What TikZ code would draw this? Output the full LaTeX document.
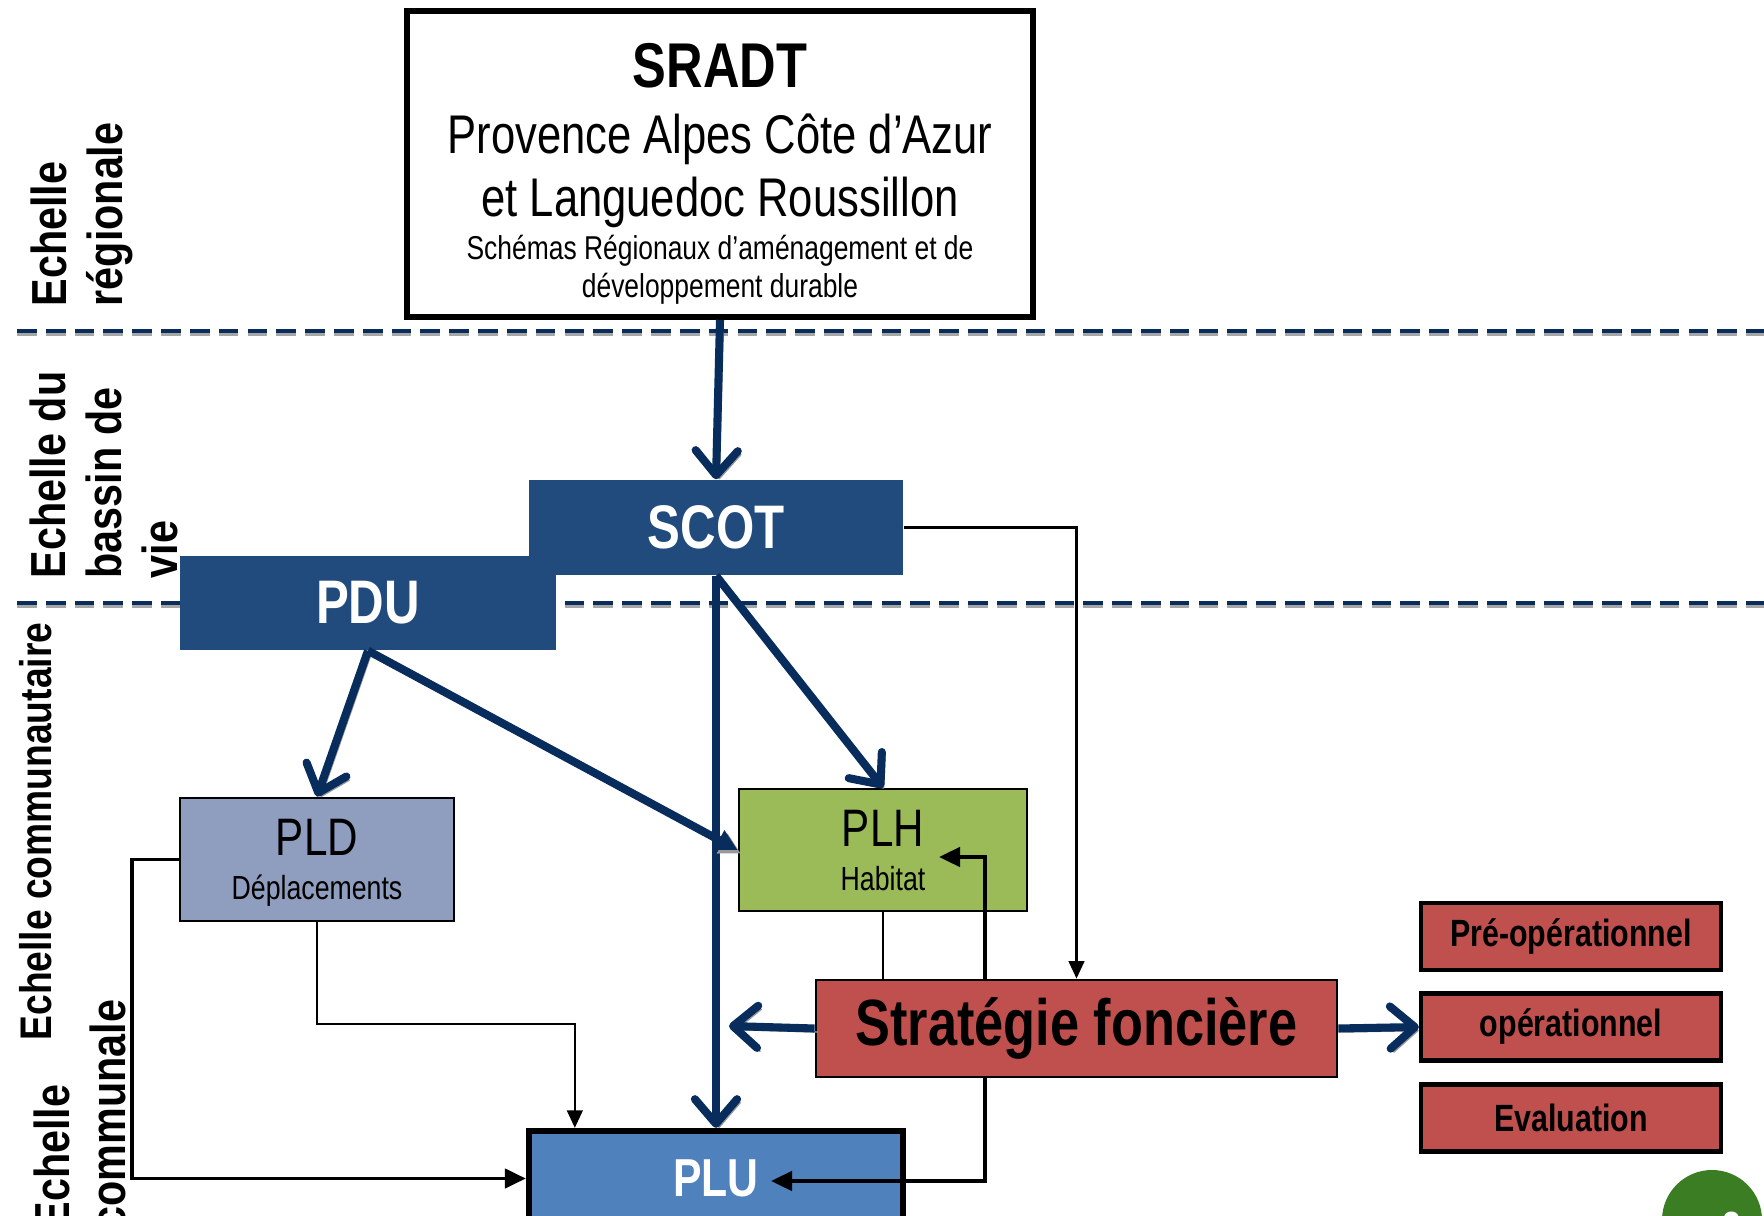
\documentclass[tikz,border=0pt]{standalone}
\usepackage{fontspec}
\setmainfont{Liberation Sans}[FakeStretch=0.8]
\newfontfamily\sidefont{Liberation Sans}[FakeStretch=0.84]
\usepackage{xcolor}
\usepackage{tikz}
\usetikzlibrary{arrows.meta, positioning, calc}
\definecolor{scotblue}{RGB}{33,74,125}
\definecolor{arrownavy}{RGB}{8,45,92}
\definecolor{pldblue}{RGB}{143,157,190}
\definecolor{plhgreen}{RGB}{155,187,89}
\definecolor{fonred}{RGB}{192,80,77}
\definecolor{plublue}{RGB}{79,129,189}
\definecolor{badgegreen}{RGB}{59,125,35}

\begin{document}
\begin{tikzpicture}[
  sradtbox/.style={rectangle, draw=black, line width=1.6pt, fill=white, minimum width=6.26cm, minimum height=3.06cm},
  bigtext/.style={anchor=base, font=\bfseries\fontsize{18}{20}\selectfont},
  midtext/.style={anchor=base, font=\fontsize{15.5}{18}\selectfont},
  smalltext/.style={anchor=base, font=\fontsize{9.4}{11}\selectfont},
  darkbox/.style={rectangle, fill=scotblue, text=white, minimum height=0.95cm, font=\bfseries\fontsize{17.5}{20}\selectfont},
  planbox/.style={rectangle, draw=black, line width=0.8pt, align=center, text depth=0pt, font=\fontsize{15}{12.5}\selectfont},
  redbig/.style={rectangle, fill=fonred, draw=black, line width=0.8pt, minimum width=5.21cm, minimum height=0.97cm, font=\bfseries\fontsize{18.6}{22}\selectfont},
  redbox/.style={rectangle, fill=fonred, draw=black, line width=1.2pt, minimum width=3.0cm, minimum height=0.67cm, font=\bfseries\fontsize{10.8}{13}\selectfont},
  sidelabel/.style={rotate=90, anchor=west, align=left, inner sep=0pt, font=\sidefont\bfseries\fontsize{14}{16}\selectfont},
  divline/.style={arrownavy, line width=1pt, dash pattern=on 5.6pt off 2.6pt},
  divshadow/.style={black!35, line width=0.8pt, dash pattern=on 5.6pt off 2.6pt},
  bigarr/.style={arrownavy, line width=2.3pt, -{Straight Barb[length=7pt, width=12pt, round]},
    preaction={draw=black!40, transform canvas={shift={(0.9pt,-1pt)}}}},
  thinarr/.style={black, line width=0.6pt, -{Triangle[length=5pt, width=4.5pt]}},
  thickarr/.style={black, line width=1.1pt, -{Triangle[length=6pt, width=5.5pt]}}
]
\useasboundingbox (0,0) rectangle (17.64,-12.16);

% dividers between the scales
\foreach \y in {-3.31,-6.03} {
  \draw[divshadow] (0.17,\y-0.035) -- (17.64,\y-0.035);
  \draw[divline] (0.17,\y) -- (17.64,\y);
}

\node[sidelabel] (lab-reg) at (0.82,-3.07) {Echelle\\régionale};
\node[sidelabel] (lab-bassin) at (1.04,-5.79) {Echelle du\\bassin de\\vie};
\node[sidelabel, font=\sidefont\bfseries\fontsize{12.6}{16}\selectfont] (lab-comm) at (0.36,-10.41) {Echelle communautaire};
\node[sidelabel] (lab-communale) at (0.80,-12.30) {Echelle\\communale};

\node[sradtbox] (sradt) at (7.20,-1.64) {};
\node[bigtext] (sradt-title) at (7.20,-0.88) {SRADT};
\node[midtext] (sradt-l1) at (7.20,-1.54) {Provence Alpes Côte d’Azur};
\node[midtext] (sradt-l2) at (7.20,-2.17) {et Languedoc Roussillon};
\node[smalltext] (sradt-l3) at (7.20,-2.60) {Schémas Régionaux d’aménagement et de};
\node[smalltext] (sradt-l4) at (7.20,-2.98) {développement durable};

\node[darkbox, minimum width=3.76cm, minimum height=0.94cm] (pdu) at (3.68,-6.03) {PDU};
\node[darkbox, minimum width=3.74cm] (scot) at (7.16,-5.275) {SCOT};

\node[planbox, fill=pldblue, minimum width=2.74cm, minimum height=1.23cm] (pld) at (3.17,-8.595) {PLD\\{\fontsize{9.5}{11}\selectfont Déplacements}};
\node[planbox, fill=plhgreen, minimum width=2.88cm, minimum height=1.22cm] (plh) at (8.83,-8.50) {PLH\\{\fontsize{9.5}{11}\selectfont Habitat}};

\node[redbig] (strat) at (10.765,-10.285) {Stratégie foncière};
\node[redbox] (preop) at (15.71,-9.365) {Pré-opérationnel};
\node[redbox] (oper) at (15.71,-10.27) {opérationnel};
\node[redbox] (evalu) at (15.71,-11.18) {Evaluation};

\node[rectangle, fill=plublue, draw=black, line width=1.8pt, text=white, minimum width=3.74cm, minimum height=0.95cm, font=\bfseries\fontsize{15.2}{18}\selectfont] (plu) at (7.16,-11.785) {PLU};

\node[circle, fill=badgegreen, minimum size=1.0cm, inner sep=0pt] (badge) at (17.12,-12.20) {};
\node[text=white, font=\bfseries\fontsize{12}{14}\selectfont] (badge-num) at (17.32,-12.27) {2};

\coordinate (stratend) at (7.29,-10.26);
\coordinate (plhin) at (9.39,-8.57);
\coordinate (pluin) at (7.71,-11.81);

\draw[thinarr] (scot.east) -| (strat.north);
\draw[thinarr] (pld.south) -- ++(0,-1.02) -| ([xshift=0.49cm]plu.north west);
\draw[black, line width=0.6pt] (plh.south) -- (plh.south |- strat.north);
\draw[thickarr] (pld.west) -- ++(-0.47,0) |- (plu.west);
\draw[thickarr] ([xshift=-0.915cm]strat.north) |- (plhin);
\draw[thickarr] ([xshift=-0.915cm]strat.south) |- (pluin);

\draw[bigarr] (sradt.south) -- (scot.north);
\draw[bigarr] (scot.south) -- (plu.north);
\draw[bigarr] (scot.south) -- (plh.north);
\draw[bigarr] (pdu.south) -- (pld.north);
\draw[bigarr, -{Triangle[length=6pt, width=6pt]}] (pdu.south) -- (plh.west);
\draw[bigarr] (strat.west) -- (stratend);
\draw[bigarr] (strat.east) -- (oper.west);
\end{tikzpicture}
\end{document}
